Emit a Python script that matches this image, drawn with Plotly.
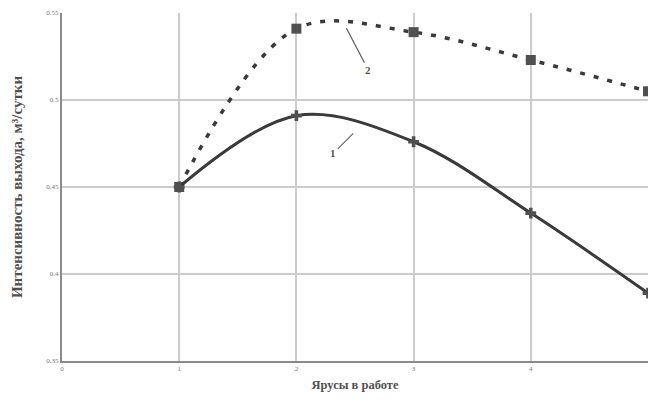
import plotly.graph_objects as go

# Tiers in operation and outflow intensity for the two curves
tiers = [1, 2, 3, 4, 5]
curve1 = [0.450, 0.491, 0.476, 0.435, 0.389]
curve2 = [0.450, 0.541, 0.539, 0.523, 0.505]

x_ticks = [0, 1, 2, 3, 4]
y_ticks = [0.35, 0.40, 0.45, 0.50, 0.55]
y_tick_text = ["0.35", "0.4", "0.45", "0.5", "0.55"]

line_col = "#3a3a3a"
grid_col = "#cccccc"

fig = go.Figure()

fig.add_trace(go.Scatter(
    x=tiers, y=curve2, mode="lines+markers",
    line=dict(color=line_col, width=3.5, shape="spline", smoothing=1.0, dash="5px,9px"),
    marker=dict(symbol="square", size=10, color="#505050"),
    showlegend=False,
))
fig.add_trace(go.Scatter(
    x=tiers, y=curve1, mode="lines+markers",
    line=dict(color=line_col, width=3, shape="spline", smoothing=1.0),
    marker=dict(symbol="cross", size=9, color="#505050"),
    showlegend=False,
))

# Curve labels with leader lines
fig.add_annotation(x=2.485, y=0.4808, text="<b>1</b>", showarrow=True, arrowhead=0,
                   arrowwidth=1.2, arrowcolor="#666", ax=-20, ay=20,
                   font=dict(family="Liberation Serif", size=11, color="#555"))
fig.add_annotation(x=2.426, y=0.5413, text="<b>2</b>", showarrow=True, arrowhead=0,
                   arrowwidth=1.2, arrowcolor="#666", ax=22, ay=42,
                   font=dict(family="Liberation Serif", size=11, color="#555"))

axis_common = dict(
    showgrid=True, gridcolor=grid_col, gridwidth=1.5,
    showline=True, linecolor="#8a8a8a", linewidth=2,
    zeroline=False, ticks="", tickfont=dict(family="Liberation Serif", size=7, color="#777"),
)

fig.update_xaxes(range=[0, 5], tickvals=x_ticks, **axis_common,
                 title=dict(text="<b>Ярусы в работе</b>", standoff=8,
                            font=dict(family="Liberation Serif", size=12.5, color="#505050")))
fig.update_yaxes(range=[0.35, 0.55], tickvals=y_ticks, ticktext=y_tick_text, **axis_common,
                 title=dict(text="<b>Интенсивность выхода, м³/сутки</b>", standoff=20,
                            font=dict(family="Liberation Serif", size=15, color="#505050")))

fig.update_layout(
    width=648, height=401,
    margin=dict(l=62, r=0, t=13, b=40),
    paper_bgcolor="white", plot_bgcolor="white",
)

fig.write_html("out.html")
